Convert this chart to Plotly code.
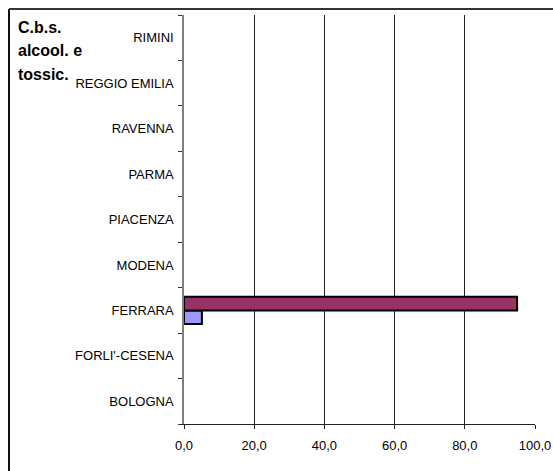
import plotly.graph_objects as go

categories = ["BOLOGNA", "FORLI'-CESENA", "FERRARA", "MODENA", "PIACENZA",
              "PARMA", "RAVENNA", "REGGIO EMILIA", "RIMINI"]
series_a_name = "Serie 1"
series_a = [None, None, 5.1, None, None, None, None, None, None]
series_b_name = "Serie 2"
series_b = [None, None, 94.9, None, None, None, None, None, None]
x_ticks = [0, 20, 40, 60, 80, 100]
title_lines = ["C.b.s.", "alcool. e", "tossic."]

W, H = 553, 471
L, R, T, B = 184, 18, 15, 47
pw, ph = W - L - R, H - T - B

def px(x):
    return (x - L) / pw

def py(y):
    return (H - B - y) / ph

fig = go.Figure()
fig.add_trace(go.Bar(y=categories, x=series_a, orientation="h", name=series_a_name,
                     marker=dict(color="#9999FF", line=dict(color="black", width=2))))
fig.add_trace(go.Bar(y=categories, x=series_b, orientation="h", name=series_b_name,
                     marker=dict(color="#993366", line=dict(color="black", width=2))))

annotations = []
for i, line in enumerate(title_lines):
    annotations.append(dict(text="<b>" + line + "</b>", xref="paper", yref="paper",
                            x=px(16), y=py(28 + 23 * i), xanchor="left", yanchor="middle",
                            align="left", showarrow=False,
                            font=dict(family="Liberation Sans, Arial", size=16, color="black")))

fig.update_layout(
    width=W, height=H,
    margin=dict(l=L, r=R, t=T, b=B),
    paper_bgcolor="white", plot_bgcolor="white",
    barmode="group", bargap=0.4, bargroupgap=0,
    showlegend=False,
    separators=",.",
    font=dict(family="Liberation Sans, Arial", size=13, color="black"),
    xaxis=dict(range=[0, 100], tickvals=x_ticks, tickformat=".1f",
               showgrid=True, gridcolor="#222", gridwidth=1,
               showline=True, linecolor="#222", linewidth=1,
               ticks="outside", ticklen=4, tickcolor="#222",
               ticklabelstandoff=5,
               zeroline=False, fixedrange=True, automargin=False),
    yaxis=dict(categoryorder="array", categoryarray=categories,
               showgrid=False, showline=True, linecolor="#808080", linewidth=1.5,
               ticks="outside", ticklen=4, tickcolor="#333", tickson="boundaries",
               ticklabelstandoff=6, zeroline=False, fixedrange=True, automargin=False),
    shapes=[
        dict(type="line", xref="paper", yref="paper",
             x0=px(9), x1=px(600), y0=py(9), y1=py(9),
             line=dict(color="#333", width=2), layer="below"),
        dict(type="line", xref="paper", yref="paper",
             x0=px(9), x1=px(9), y0=py(9), y1=py(600),
             line=dict(color="#111", width=2), layer="below"),
    ],
    annotations=annotations,
)

fig.write_html("out.html", config={"displayModeBar": False},
               post_script="document.body.style.margin='0';document.body.style.overflow='hidden';")
